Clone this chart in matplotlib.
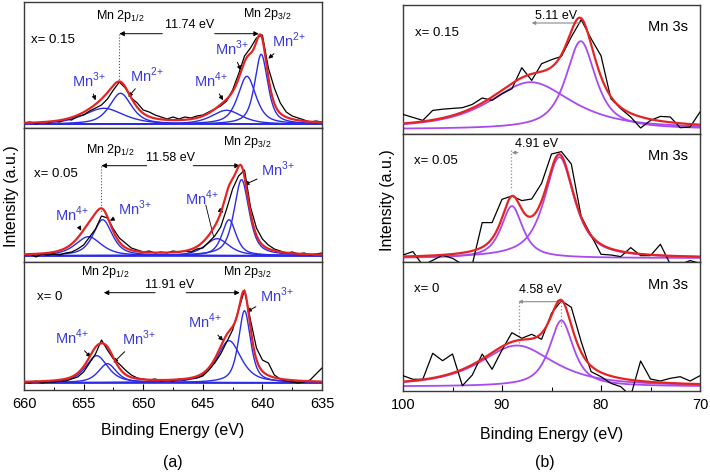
import numpy as np
import matplotlib.pyplot as plt

plt.rcParams['font.family'] = ['Liberation Sans', 'DejaVu Sans']
plt.rcParams['mathtext.fontset'] = 'custom'
plt.rcParams['mathtext.rm'] = 'Liberation Sans'

# ---------------- data: Mn 2p (panel a) ----------------
e2p = np.arange(660.0, 634.9, -0.5)
raw_015 = [5, 6, 4, 6, 5, 7, 6, 9, 8, 12, 13, 17, 20, 23, 29, 38, 46, 40, 30, 25,
           18, 16, 13, 11, 9, 11, 9, 11, 10, 12, 13, 16, 19, 22, 27, 38, 54, 72, 80, 90,
           93, 60, 40, 25, 16, 12, 10, 8, 6, 7, 6]
raw_005 = [7, 8, 5, 8, 7, 8, 7, 9, 10, 13, 17, 25, 33, 46, 44, 33, 24, 19, 14, 12,
           10, 11, 9, 10, 9, 11, 10, 11, 10, 13, 14, 20, 26, 35, 53, 73, 86, 92, 55, 34,
           23, 17, 13, 11, 9, 10, 8, 9, 7, 8, 9]
raw_000 = [8, 7, 9, 7, 8, 8, 9, 9, 11, 13, 18, 27, 36, 50, 40, 31, 26, 20, 15, 12,
           11, 10, 11, 9, 10, 9, 11, 10, 12, 12, 14, 20, 27, 36, 48, 60, 80, 100, 70, 42,
           30, 27, 15, 11, 9, 8, 7, 8, 10, 16, 22]

# fitted components: centre (eV), height, FWHM
fit_015 = dict(base=3.7, c=[640.1, 641.3, 643.0, 651.9, 653.3],
               h=[70, 48, 14, 31, 16], w=[1.3, 1.8, 3.0, 2.2, 4.0])
fit_005 = dict(base=6.3, c=[641.75, 642.8, 643.8, 653.4, 654.6],
               h=[76, 36, 17, 36, 19], w=[1.5, 1.4, 2.4, 1.9, 2.6])
fit_000 = dict(base=7.3, c=[641.5, 642.8, 653.9, 653.0],
               h=[72, 42, 27, 19], w=[1.2, 2.4, 2.2, 1.8])

# ---------------- data: Mn 3s (panel b) ----------------
e3s = np.arange(100, 69, -1)
raw3s_015 = [19.3, 16.3, 13.3, 23.3, 24.5, 25.3, 26, 29.3, 35.7, 33.3, 40, 45, 66, 53.3,
             70, 74, 77.3, 96.7, 114, 95, 78, 35, 25, 16.7, 5.7, 13.3, 17.3, 16.7, 6, 6.7, 21.7]
raw3s_005 = [7.3, 10.7, -3, 2, 7, 4, -2, -2, 39.7, 39.7, 63, 66.3, 61.7, 63.3, 79, 108.3,
             110.7, 98.3, 45.7, 27, 8, 7.3, 5.7, 14.7, 6.7, 6.7, 18, -2, -2, 1.7, -1]
raw3s_000 = [15.3, 11.7, 11.7, 37.7, 30.3, 37, 5.3, 16, 37, 21.7, 41, 58.3, 52.7, 56.7,
             51.7, 77.7, 90.3, 83.7, 49.3, 19.3, 14.3, 7.7, 4.3, -5, 30, 12, 10, 12.7,
             14.3, 10, 15.3]

fit3s_015 = dict(base=4.5, c=[82.05, 87.1], h=[88, 47], w=[3.6, 10.0])
fit3s_005 = dict(base=4.2, c=[84.2, 89.0], h=[101, 52], w=[3.6, 2.6])
fit3s_000 = dict(base=4.5, c=[84.0, 88.5], h=[66, 41], w=[2.9, 9.0])

RED = '#e42424'
BLUE = '#2b2be6'
LBLUE = '#3a3ad8'
PURPLE = '#a94af0'
GREY = '#8a8a8a'


def pvoigt(x, c, h, w, eta):
    g = np.exp(-4 * np.log(2) * ((x - c) / w) ** 2)
    lo = 1.0 / (1 + 4 * ((x - c) / w) ** 2)
    return h * (eta * lo + (1 - eta) * g)


W, H = 710, 475
fig = plt.figure(figsize=(W / 100, H / 100), dpi=100)


def make_ax(x0, x1, top, bot):
    ax = fig.add_axes([x0 / W, 1 - bot / H, (x1 - x0) / W, (bot - top) / H])
    for s in ax.spines.values():
        s.set_color('#3a3a3a')
        s.set_linewidth(1.0)
    ax.set_yticks([])
    ax.tick_params(axis='x', bottom=False, labelbottom=False)
    return ax, bot - top


def lab(ax, ion, xy, xyt, fs=10.5):
    # '{+}' keeps mathtext from padding the plus sign like an operator
    ax.annotate('Mn$^{%s{+}}$' % ion, xy=xy, xytext=xyt, color=LBLUE, fontsize=fs,
                ha='center', va='center',
                arrowprops=dict(arrowstyle='-|>', color='black', lw=0.7,
                                mutation_scale=6, shrinkA=1, shrinkB=0))


# ---------------- panel (a) ----------------
left_rows = [(2, 128), (128, 262), (262, 390)]
raws = [raw_015, raw_005, raw_000]
fits = [fit_015, fit_005, fit_000]
xs = np.linspace(660, 635, 800)
axes_a = []
for (top, bot), raw, fit in zip(left_rows, raws, fits):
    ax, hh = make_ax(24, 322, top, bot)
    ax.set_xlim(660, 635)
    ax.set_ylim(0, hh)
    ax.axhline(fit['base'], color=BLUE, lw=1.2, zorder=1)
    total = np.full_like(xs, fit['base'])
    for c, h, w in zip(fit['c'], fit['h'], fit['w']):
        comp = pvoigt(xs, c, h, w, 0.65)
        total += comp
        ax.plot(xs, fit['base'] + comp, color=BLUE, lw=1.0, zorder=2)
    ax.plot(e2p, raw, color='black', lw=0.9, zorder=3)
    ax.plot(xs, total, color=RED, lw=1.6, zorder=4)
    axes_a.append(ax)

a1, a2, a3 = axes_a
arr = dict(arrowstyle='-|>', color='black', lw=0.7, mutation_scale=7, shrinkA=0, shrinkB=0)

# x = 0.15
a1.text(659.4, 87.7, 'x= 0.15', fontsize=9.5, va='center')
a1.text(651.95, 111.7, 'Mn 2p$_{1/2}$', fontsize=9, ha='center', va='center')
a1.text(639.6, 113.7, 'Mn 2p$_{3/2}$', fontsize=9, ha='center', va='center')
a1.text(646.1, 102.5, '11.74 eV', fontsize=9, ha='center', va='center')
a1.annotate('', xy=(652.0, 94.3), xytext=(648.4, 94.3), arrowprops=arr)
a1.annotate('', xy=(640.3, 94.3), xytext=(644.0, 94.3), arrowprops=arr)
a1.plot([652.0, 652.0], [94.3, 46], ls=':', color='#555555', lw=0.8)
lab(a1, '3', (654.0, 27.7), (654.6, 47.7))
lab(a1, '2', (651.25, 31), (649.7, 52.7))
lab(a1, '4', (643.3, 27.7), (644.3, 47.7))
lab(a1, '3', (641.8, 57.7), (642.6, 79.3))
lab(a1, '2', (639.5, 69.3), (637.8, 87.7))

# x = 0.05
a2.text(659.2, 88.3, 'x= 0.05', fontsize=9.5, va='center')
a2.text(652.8, 112.3, 'Mn 2p$_{1/2}$', fontsize=9, ha='center', va='center')
a2.text(641.3, 120.3, 'Mn 2p$_{3/2}$', fontsize=9, ha='center', va='center')
a2.text(647.75, 104, '11.58 eV', fontsize=9, ha='center', va='center')
a2.annotate('', xy=(653.5, 96.3), xytext=(649.7, 96.3), arrowprops=arr)
a2.annotate('', xy=(641.9, 96.3), xytext=(645.8, 96.3), arrowprops=arr)
a2.plot([653.5, 653.5], [96.3, 50], ls=':', color='#555555', lw=0.8)
lab(a2, '4', (655.2, 31.3), (656.0, 48))
lab(a2, '3', (652.8, 41.3), (650.7, 54))
lab(a2, '4', (643.3, 49.7), (645.1, 63.3))
a2.plot([644.75, 644.1], [57, 25.7], color='black', lw=0.6)
lab(a2, '3', (641.5, 77.3), (638.7, 92.3))

# x = 0
a3.text(658.9, 93.3, 'x= 0', fontsize=9.5, va='center')
a3.text(653.2, 118.3, 'Mn 2p$_{1/2}$', fontsize=9, ha='center', va='center')
a3.text(641.3, 118.3, 'Mn 2p$_{3/2}$', fontsize=9, ha='center', va='center')
a3.text(647.75, 105, '11.91 eV', fontsize=9, ha='center', va='center')
a3.annotate('', xy=(653.3, 97.3), xytext=(649.0, 97.3), arrowprops=arr)
a3.annotate('', xy=(641.9, 97.3), xytext=(646.4, 97.3), arrowprops=arr)
lab(a3, '4', (654.4, 32.7), (656.0, 52.7))
lab(a3, '3', (652.5, 27.3), (650.4, 51.7))
lab(a3, '4', (643.3, 49.3), (644.8, 68.3))
lab(a3, '3', (641.3, 78.3), (638.8, 95))

a3.tick_params(axis='x', bottom=True, labelbottom=True, direction='in',
               length=4, width=0.8, labelsize=10.5, pad=5)
a3.set_xticks([660, 655, 650, 645, 640, 635])
a3.set_xticks(np.arange(657.5, 635, -5), minor=True)
a3.tick_params(axis='x', which='minor', direction='in', length=2.5, width=0.7)

# ---------------- panel (b) ----------------
right_rows = [(5, 133.7), (133.7, 262.3), (262.3, 391)]
raws3 = [raw3s_015, raw3s_005, raw3s_000]
fits3 = [fit3s_015, fit3s_005, fit3s_000]
xs3 = np.linspace(100, 70, 800)
axes_b = []
for (top, bot), raw, fit in zip(right_rows, raws3, fits3):
    ax, hh = make_ax(403, 700, top, bot)
    ax.set_xlim(100, 70)
    ax.set_ylim(0, hh)
    total = np.full_like(xs3, fit['base'])
    for c, h, w in zip(fit['c'], fit['h'], fit['w']):
        comp = pvoigt(xs3, c, h, w, 0.8)
        total += comp
        ax.plot(xs3, fit['base'] + comp, color=PURPLE, lw=1.3, zorder=2)
    ax.plot(e3s, raw, color='black', lw=0.9, zorder=3)
    ax.plot(xs3, total, color=RED, lw=1.6, zorder=4)
    ax.text(71.2, 106.3, 'Mn 3s', fontsize=10.5, ha='right', va='center')
    axes_b.append(ax)

b1, b2, b3 = axes_b
garr = dict(arrowstyle='-|>', color=GREY, lw=0.8, mutation_scale=5, shrinkA=0, shrinkB=0)
b1.text(98.8, 101, 'x= 0.15', fontsize=9.5, va='center')
b1.text(84.5, 118, '5.11 eV', fontsize=9, ha='center', va='center')
b1.annotate('', xy=(87.0, 110.7), xytext=(82.1, 110.7), arrowprops=garr)

b2.text(98.9, 101.7, 'x= 0.05', fontsize=9.5, va='center')
b2.text(86.5, 118.3, '4.91 eV', fontsize=9, ha='center', va='center')
b2.annotate('', xy=(89.0, 109.7), xytext=(88.4, 109.7), arrowprops=garr)
b2.plot([89.1, 89.1], [112, 72], ls=':', color=GREY, lw=0.9)

b3.text(98.9, 101.7, 'x= 0', fontsize=9.5, va='center')
b3.text(86.1, 101, '4.58 eV', fontsize=9, ha='center', va='center')
b3.annotate('', xy=(88.35, 89.3), xytext=(84.0, 89.3),
            arrowprops=dict(arrowstyle='<|-|>', color=GREY, lw=0.8,
                            mutation_scale=5, shrinkA=0, shrinkB=0))
b3.plot([88.3, 88.3], [89.3, 46], ls=':', color=GREY, lw=0.9)
b3.plot([84.0, 84.0], [89.3, 64], ls=':', color=GREY, lw=0.9)

b3.tick_params(axis='x', bottom=True, labelbottom=True, direction='in',
               length=4, width=0.8, labelsize=10.5, pad=5)
b3.set_xticks([100, 90, 80, 70])
b3.set_xticks([95, 85, 75], minor=True)
b3.tick_params(axis='x', which='minor', direction='in', length=3, width=0.7)

# ---------------- figure texts ----------------
fig.text(12 / W, 1 - 196 / H, 'Intensity (a.u.)', rotation=90, fontsize=11.5,
         ha='center', va='center')
fig.text(387 / W, 1 - 200 / H, 'Intensity (a.u.)', rotation=90, fontsize=11.5,
         ha='center', va='center')
fig.text(173 / W, 1 - 430 / H, 'Binding Energy (eV)', fontsize=11.5, ha='center', va='center')
fig.text(551.5 / W, 1 - 434 / H, 'Binding Energy (eV)', fontsize=11.5, ha='center', va='center')
fig.text(173 / W, 1 - 463 / H, '(a)', fontsize=11.5, ha='center', va='center')
fig.text(545 / W, 1 - 463 / H, '(b)', fontsize=11.5, ha='center', va='center')

fig.savefig('out.png', dpi=100)
